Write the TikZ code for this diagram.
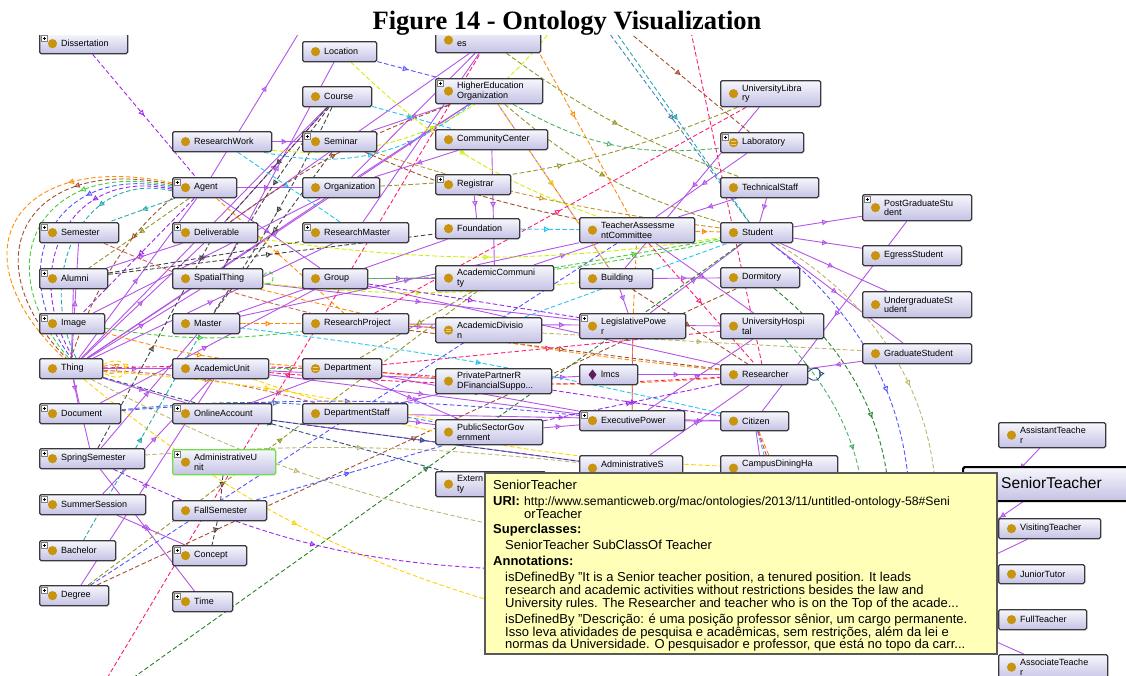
\documentclass[tikz,border=0pt]{standalone}
\usepackage{fontspec}
\setmainfont{Liberation Sans}
\newfontfamily\captionserif{Liberation Serif}
\usetikzlibrary{arrows.meta,decorations.markings}
\pgfdeclarelayer{links}
\pgfdeclarelayer{overlay}
\pgfsetlayers{links,main,overlay}

\definecolor{lavtop}{RGB}{247,247,253}
\definecolor{lavbot}{RGB}{196,194,228}
\definecolor{frame}{RGB}{58,58,62}
\definecolor{gold}{RGB}{200,148,14}
\definecolor{vio}{RGB}{180,84,232}
\definecolor{tipbg}{RGB}{255,255,184}
\definecolor{admgreen}{RGB}{110,222,70}
\definecolor{indiv}{RGB}{92,28,96}
\definecolor{eorange}{RGB}{255,140,10}
\definecolor{ebrown}{RGB}{160,82,45}
\definecolor{egreen}{RGB}{70,205,60}
\definecolor{eblue}{RGB}{85,85,255}
\definecolor{eteal}{RGB}{40,170,170}
\definecolor{eolive}{RGB}{150,150,40}
\definecolor{eyellow}{RGB}{255,210,0}
\definecolor{elime}{RGB}{205,240,0}
\definecolor{ecyan}{RGB}{40,195,240}
\definecolor{epink}{RGB}{255,30,120}
\definecolor{egray}{RGB}{70,70,70}
\definecolor{enavy}{RGB}{45,80,130}
\definecolor{esalmon}{RGB}{205,95,85}
\definecolor{edkgreen}{RGB}{40,130,40}
\definecolor{ekhaki}{RGB}{190,182,110}
\definecolor{esteel}{RGB}{70,130,190}
\definecolor{epurple}{RGB}{155,40,235}
\definecolor{egreentwo}{RGB}{80,175,105}
\definecolor{eochre}{RGB}{200,150,50}

\tikzset{
  box/.style={draw=frame, line width=1.3pt, rounded corners=1.5pt,
    top color=lavtop, bottom color=lavbot, anchor=north west, inner sep=0pt},
  lbl/.style={anchor=west, inner sep=0pt, align=left,
    font=\fontsize{9}{9.5}\selectfont},
  tipmark/.style={postaction={decorate}, decoration={markings,
    mark=at position #1 with {\arrow{Triangle[open,length=5.5pt,width=5.5pt]}}}},
  tipmark/.default=0.5,
  sub/.style={draw=vio, line width=0.9pt, tipmark},
  dsh/.style={line width=0.9pt, dash pattern=on 4.5pt off 2.5pt},
  prop/.style={dsh, tipmark},
  tipline/.style={anchor=base west, inner sep=0pt, font=\fontsize{13}{13.5}\selectfont},
}

% class box: [options] name x y width height label
\newcommand\ontbox[7][]{%
  \node[box, minimum width=#5pt, minimum height=#6pt, #1] (#2) at (#3,#4) {};
  \fill[gold] ([xshift=13.5pt]#2.west) circle (4.6pt);
  \node[lbl] (#2-t) at ([xshift=22pt]#2.west) {#7};}
% expand marker in the upper left corner
\newcommand\ontplus[1]{%
  \draw[draw=black!50, fill=white, line width=0.4pt]
    ([shift={(2.5,2.5)}]#1.north west) rectangle +(6,6);
  \draw[line width=0.7pt] ([shift={(3.6,5.5)}]#1.north west) -- +(3.8,0)
    ([shift={(5.5,3.6)}]#1.north west) -- +(0,3.8);}
% equivalent-class icon
\newcommand\onteq[1]{%
  \draw[white!55!gold, line width=0.7pt]
    ([xshift=10.6pt,yshift=1.3pt]#1.west) -- +(5.8pt,0pt)
    ([xshift=10.6pt,yshift=-1.3pt]#1.west) -- +(5.8pt,0pt);}

\begin{document}
\begin{tikzpicture}[x=1pt,y=-1pt]
\useasboundingbox (0,0) rectangle (1126,675);

% ---- column 1
\ontbox{dis}{39}{33}{88}{20}{Dissertation}
\ontbox{sem}{39}{222}{79}{20}{Semester}
\ontbox{alu}{39}{268}{68}{20}{Alumni}
\ontbox{img}{39}{313}{65}{20}{Image}
\ontbox{thing}{39}{358}{63}{20}{Thing}
\ontbox{doc}{39}{403}{81}{20}{Document}
\ontbox{spr}{39}{448}{105}{20}{SpringSemester}
\ontbox{sum}{39}{494}{106}{20}{SummerSession}
\ontbox{bach}{39}{540}{76}{20}{Bachelor}
\ontbox{deg}{39}{585}{69}{20}{Degree}
% ---- column 2
\ontbox{rw}{172}{131}{99}{20}{ResearchWork}
\ontbox{agent}{172}{177}{64}{20}{Agent}
\ontbox{deliv}{172}{222}{85}{20}{Deliverable}
\ontbox{spat}{172}{268}{90}{20}{SpatialThing}
\ontbox{master}{172}{313}{67}{20}{Master}
\ontbox{acu}{172}{358}{96}{20}{AcademicUnit}
\ontbox{online}{172}{403}{99}{20}{OnlineAccount}
\ontbox[draw=admgreen]{admu}{172}{449}{103}{25}{AdministrativeU\\nit}
\ontbox{fall}{172}{500}{94}{20}{FallSemester}
\ontbox{concept}{172}{545}{74}{20}{Concept}
\ontbox{time}{172}{591}{60}{20}{Time}
% ---- column 3
\ontbox{loc}{302}{41}{74}{20}{Location}
\ontbox{course}{302}{86}{69}{20}{Course}
\ontbox{seminar}{302}{131}{74}{20}{Seminar}
\ontbox{org}{302}{177}{77}{20}{Organization}
\ontbox{rmaster}{302}{222}{106}{20}{ResearchMaster}
\ontbox{group}{302}{268}{65}{20}{Group}
\ontbox{rproj}{302}{313}{106}{20}{ResearchProject}
\ontbox{dept}{302}{358}{79}{20}{Department}
\ontbox{dstaff}{302}{403}{105}{20}{DepartmentStaff}
% ---- column 4 (top box runs under the caption band)
\ontbox{fund}{435}{27}{105}{25}{}
\node[lbl] (fund-l) at ([xshift=22pt,yshift=-4pt]fund.west) {es};
\ontbox{heo}{435}{78}{107}{25}{HigherEducation\\Organization}
\ontbox{cc}{435}{129}{112}{20}{CommunityCenter}
\ontbox{reg}{435}{174}{75}{20}{Registrar}
\ontbox{found}{435}{218}{84}{20}{Foundation}
\ontbox{acom}{435}{265}{118}{25}{AcademicCommuni\\ty}
\ontbox{adiv}{435}{317}{106}{25}{AcademicDivisio\\n}
\ontbox{ppr}{435}{368}{116}{25}{PrivatePartnerR\\DFinancialSuppo...}
\ontbox{psg}{435}{419}{107}{25}{PublicSectorGov\\ernment}
\ontbox{ext}{435}{471}{110}{25}{Extern\\ty}
% ---- column 5
\ontbox{tac}{579}{217}{115}{25}{TeacherAssessme\\ntCommittee}
\ontbox{bld}{579}{268}{73}{20}{Building}
\ontbox{leg}{579}{313}{106}{25}{LegislativePowe\\r}
\node[box, minimum width=58pt, minimum height=20pt] (lmcs) at (579,364) {};
\fill[indiv] ([xshift=13.5pt]lmcs.west) +(0,-5.2) -- +(4,0) -- +(0,5.2) -- +(-4,0) -- cycle;
\node[lbl] (lmcs-t) at ([xshift=22pt]lmcs.west) {lmcs};
\ontbox{exec}{579}{410}{105}{20}{ExecutivePower}
\ontbox{adms}{579}{455}{103}{25}{}
\node[lbl] (adms-l) at ([xshift=22pt,yshift=4pt]adms.west) {AdministrativeS};
% ---- column 6
\ontbox{ulib}{720}{80}{100}{26}{UniversityLibra\\ry}
\ontbox{lab}{720}{132}{83}{20}{Laboratory}
\ontbox{tech}{720}{177}{98}{20}{TechnicalStaff}
\ontbox{stud}{720}{222}{72}{20}{Student}
\ontbox{dorm}{720}{267}{79}{20}{Dormitory}
\ontbox{uhos}{720}{313}{103}{25}{UniversityHospi\\tal}
\ontbox{res}{720}{364}{87}{20}{Researcher}
\ontbox{cit}{720}{411}{68}{19}{Citizen}
\ontbox{cdh}{720}{455}{117}{25}{}
\node[lbl] (cdh-l) at ([xshift=22pt,yshift=4pt]cdh.west) {CampusDiningHa};
% ---- column 7
\ontbox{pgs}{862}{194}{109}{26}{PostGraduateStu\\dent}
\ontbox{egs}{862}{245}{99}{20}{EgressStudent}
\ontbox{ugs}{862}{291}{109}{26}{UndergraduateSt\\udent}
\ontbox{gs}{862}{343}{109}{20}{GraduateStudent}
% ---- teachers
\ontbox{ast}{998}{422}{107}{25}{AssistantTeache\\r}
\node[box, draw=black, line width=2.2pt, minimum width=200pt, minimum height=34pt] (senior) at (962,466) {};
\fill[gold] ([xshift=18pt]senior.west) circle (6pt);
\node[lbl, font=\fontsize{15.6}{16}\selectfont] (senior-t) at ([xshift=39pt,yshift=1pt]senior.west) {SeniorTeacher};
\ontbox{vis}{998}{518}{102}{20}{VisitingTeacher}
\ontbox{jt}{998}{564}{86}{19}{JuniorTutor}
\ontbox{ft}{998}{609}{88}{20}{FullTeacher}
\ontbox{assoc}{998}{654}{109}{25}{AssociateTeache\\r}

\foreach \n in {dis,sem,alu,img,doc,spr,sum,bach,deg,agent,deliv,online,admu,
  concept,time,seminar,rmaster,heo,reg,leg,exec,lab,pgs} {\ontplus{\n}}
\foreach \n in {dept,adiv,lab} {\onteq{\n}}

% free ends of links that leave the view
\coordinate (topa) at (322,-5);
\coordinate (topb) at (560,18);
\coordinate (topc) at (598,18);
\coordinate (topd) at (606,18);
\coordinate (tope) at (612,18);
\coordinate (topf) at (688,18);
\coordinate (topg) at (520,18);
\coordinate (boa) at (100,690);
\coordinate (bob) at (116,690);
\coordinate (hy) at (540,615);
\coordinate (hk) at (520,530);
\coordinate (hp) at (530,570);
\coordinate (hr1) at (905,580);
\coordinate (hr2) at (930,580);
\coordinate (hr3) at (885,580);
\coordinate (hr4) at (862,580);
\coordinate (hv) at (900,600);
\coordinate (ha) at (880,590);
\coordinate (hc1) at (770,530);
\coordinate (hc2) at (785,530);
\coordinate (hc3) at (800,530);
\coordinate (hc4) at (792,530);
\coordinate (senin) at (1000,490);
\coordinate (senout) at (1040,490);
\coordinate (hs) at (960,545);

\begin{pgfonlayer}{links}
% subclass links
\foreach \p/\q in {rw/seminar, agent/org, agent/topa, thing/agent, thing/deliv,
  thing/spat, thing/acu, thing/online, thing/org, thing/course, thing/heo,
  thing/sem, thing/alu, thing/doc, thing/spr, thing/rmaster, spat/loc,
  deliv/course, agent/group, org/heo, org/fund, group/acom, acom/tac, bld/dorm,
  ulib/bld, lab/tac, tech/tac, tech/stud, stud/pgs, stud/egs, stud/ugs, stud/gs,
  gs/res, pgs/cit, ppr/lmcs, psg/exec, leg/exec, vis/hv, assoc/ha, spr/time,
  sum/concept, deg/acu, rproj/adiv, dept/psg, dstaff/ppr, spat/leg, master/tac,
  acu/exec, online/adms, dstaff/cit, rproj/uhos, group/res, dept/exec, heo/bld,
  cc/acom, reg/found, fund/rmaster, heo/seminar, cc/org, tac/uhos, bld/leg,
  exec/cit, exec/uhos, lmcs/res, leg/stud, adms/res, cit/hc1, deliv/fund,
  master/found, acu/ppr, online/dept, dstaff/psg, doc/group, spr/master,
  img/org, alu/deliv, sum/acu, ast/senin, senout/hs}
  \draw[sub] (\p) -- (\q);

% object property links
\foreach \p/\q/\cl/\bd in {dis/agent/epurple/0, dept/acu/egreen/0,
  alu/rmaster/egray/0, course/deliv/egray/0, course/spat/egray/-4,
  seminar/master/egray/0, course/master/egray/4, admu/fall/egray/0,
  fall/concept/egray/0, spr/deliv/egray/0, rw/heo/ecyan/-25,
  rw/rmaster/ecyan/0, rw/topb/elime/-30, thing/hy/eyellow/-12,
  heo/bld/eyellow/0, heo/stud/eolive/-12, fund/tech/eolive/-8,
  heo/lab/egreentwo/-18, topc/stud/esteel/0, topd/stud/eteal/0,
  tope/lab/ebrown/0, topf/res/epink/0, topg/tac/eorange/0, boa/fund/epink/0,
  bob/stud/edkgreen/0, deg/dorm/ebrown/0, deg/tac/eblue/0, deg/acom/eolive/0,
  bach/master/eteal/0, thing/ext/enavy/0, online/adms/enavy/0,
  thing/hk/ekhaki/-8, spr/hp/epurple/-12, found/tac/ecyan/0,
  tac/stud/eorange/0, stud/hr1/eblue/30, stud/hr2/ekhaki/35,
  dorm/hr3/edkgreen/30, uhos/hr4/egreentwo/25, exec/leg/eorange/0,
  leg/tac/eorange/0, adiv/gs/ekhaki/0, rproj/res/ebrown/0, dept/res/eorange/-5,
  master/rproj/eorange/0, thing/dstaff/esalmon/6, spat/bld/elime/-6,
  agent/rproj/eorange/0, acu/cdh/eyellow/-8, acu/res/epink/-4,
  dept/uhos/epink/0, group/stud/egreen/-6, img/rproj/egreen/-8,
  img/dept/eorange/-6, alu/found/egray/0, deliv/stud/elime/-8,
  deliv/heo/ebrown/8, doc/psg/esteel/8, doc/exec/eblue/5, spr/adms/ekhaki/5,
  fall/psg/eblue/0, rproj/ulib/epink/0, org/ulib/eolive/-10,
  seminar/tac/ebrown/-6, course/cc/ecyan/0, loc/tac/elime/-12,
  loc/heo/eblue/0, psg/res/epurple/0, ppr/cit/epurple/0, adiv/stud/ecyan/0,
  acom/stud/egreen/0, acom/dept/eolive/0, bld/res/ebrown/0, tac/res/epink/0,
  cit/hc2/ecyan/0, cit/hc3/eorange/0, cit/hc4/epink/0, agent/sem/eteal/0,
  agent/alu/eolive/0, seminar/stud/eochre/-5, thing/psg/eyellow/4,
  thing/ppr/epink/3, sem/rproj/esalmon/-5, spat/res/eorange/-4,
  master/cit/ecyan/3, group/leg/epurple/0, agent/img/epurple/0}
  \draw[prop, draw=\cl] (\p) to[bend left=\bd] (\q);

% arcs from Agent round the left edge down to Thing
\foreach \cl/\n in {eorange/0, ebrown/1, egreen/2, eblue/3, epurple/4, eteal/5}
  \draw[dsh, tipmark=0.32, draw=\cl]
    ([yshift={(3-\n)*1.6pt}]agent.west)
    .. controls ({18+13*\n},{150+4*\n}) and ({-50+17*\n},{250+5*\n}) ..
    ([xshift={(\n-3)*2.5pt}]thing.north);
\draw[dsh, tipmark=0.3, draw=ebrown] (agent.south west) .. controls (120,240) and (90,300) .. (thing.north);

% self links
\draw[draw=enavy, line width=0.9pt, tipmark=0.6] ([yshift=3pt]res.east)
  .. controls +(16,-14) and +(16,12) .. ([yshift=-3pt]res.east);
\draw[dsh, draw=egreen] ([yshift=3pt]spat.east)
  .. controls +(12,-14) and +(14,10) .. ([yshift=-3pt]spat.east);
\draw[dsh, draw=eyellow, tipmark] ([yshift=4pt]thing.east)
  .. controls +(30,-16) and +(30,18) .. ([yshift=-4pt]thing.east);
\draw[dsh, draw=eochre, tipmark] ([yshift=2pt]thing.east)
  .. controls +(18,-8) and +(18,10) .. ([yshift=-2pt]thing.east);
\end{pgfonlayer}

\begin{pgfonlayer}{overlay}
% caption band
\fill[white] (0,0) rectangle (1126,34.5);
\node[font=\captionserif\bfseries\fontsize{26.5}{30}\selectfont, anchor=base, inner sep=0pt]
  (caption) at (567,29) {Figure 14 - Ontology Visualization};
% tooltip
\node[draw=black!65, line width=1.6pt, fill=tipbg, anchor=north west,
  minimum width=512pt, minimum height=181pt, inner sep=0pt] (tip) at (484,472) {};
\node[tipline] (tl1) at (493,489) {SeniorTeacher};
\node[tipline] (tl2) at (493,505) {\textbf{URI:}};
\node[tipline, font=\fontsize{12.2}{13}\selectfont] (tl2b) at (524,505) {http://www.semanticweb.org/mac/ontologies/2013/11/untitled-ontology-58\#Seni};
\node[tipline] (tl3) at (524,518) {orTeacher};
\node[tipline] (tl4) at (493,533) {\textbf{Superclasses:}};
\node[tipline] (tl5) at (505,549) {SeniorTeacher SubClassOf Teacher};
\node[tipline] (tl6) at (493,565) {\textbf{Annotations:}};
\node[tipline] (tl7) at (505,581) {isDefinedBy "It is a Senior teacher position, a tenured position. It leads};
\node[tipline] (tl8) at (505,594) {research and academic activities without restrictions besides the law and};
\node[tipline] (tl9) at (505,607) {University rules. The Researcher and teacher who is on the Top of the acade...};
\node[tipline] (tl10) at (505,623) {isDefinedBy "Descrição: é uma posição professor sênior, um cargo permanente.};
\node[tipline] (tl11) at (505,636) {Isso leva atividades de pesquisa e acadêmicas, sem restrições, além da lei e};
\node[tipline] (tl12) at (505,648) {normas da Universidade. O pesquisador e professor, que está no topo da carr...};
\end{pgfonlayer}
\end{tikzpicture}
\end{document}
